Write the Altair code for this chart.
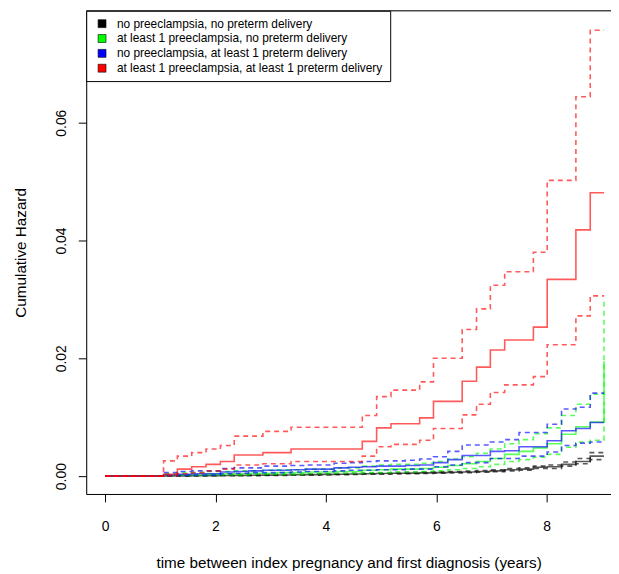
import altair as alt
import pandas as pd

# step times (years); first point is the origin
times = [0, 1.06, 1.31, 1.57, 1.83, 2.09, 2.34, 2.60, 2.86, 3.12, 3.37, 3.63, 3.89,
         4.15, 4.41, 4.66, 4.92, 5.18, 5.44, 5.70, 5.95, 6.21, 6.47, 6.73, 6.98,
         7.24, 7.50, 7.76, 8.01, 8.27, 8.53, 8.79, 9.04]

groups = [
    "no preeclampsia, no preterm delivery",
    "at least 1 preeclampsia, no preterm delivery",
    "no preeclampsia, at least 1 preterm delivery",
    "at least 1 preeclampsia, at least 1 preterm delivery",
]
colors = ["#000000", "#00FF00", "#0000FF", "#FF0000"]

# black: no preeclampsia, no preterm delivery
black_est = [0, .00003, .00005, .00007, .00009, .00011, .00013, .00015, .00018, .0002, .00023,
             .00026, .0003, .00033, .00037, .0004, .00044, .00048, .00052, .00056, .0006,
             .00065, .0007, .0008, .0009, .0011, .0012, .0015, .0016, .0020, .0025, .0034, .0034]
black_up = [0, .00006, .0001, .00013, .00015, .00018, .0002, .00022, .00026, .00028, .00032,
            .00035, .0004, .00043, .00047, .0005, .00055, .0006, .00064, .00069, .00073,
            .00079, .00085, .00096, .00107, .0013, .0014, .0017, .0019, .0024, .0030, .0040, .0040]
black_lo = [0, .00001, .00002, .00003, .00004, .00006, .00007, .00009, .00011, .00013, .00015,
            .00018, .00021, .00024, .00028, .00031, .00035, .00038, .00041, .00045, .00048,
            .00053, .00057, .00066, .00075, .0009, .0010, .0013, .0013, .0017, .0021, .0028, .0028]

# green: at least 1 preeclampsia, no preterm delivery
green_est = [0, .0001, .0002, .0002, .0003, .0004, .0004, .0005, .0005, .0006, .0006, .0007,
             .0007, .0008, .0008, .0010, .0011, .0012, .0012, .0013, .0015, .0018, .0021,
             .0025, .0030, .0037, .0042, .0048, .0055, .0071, .0084, .0092, .0195]
green_up = [0, .0004, .0006, .0006, .0008, .0008, .0009, .0009, .0010, .0011, .0011, .0012,
            .0012, .0014, .0014, .0017, .0019, .0020, .0020, .0022, .0025, .0029, .0033,
            .0039, .0046, .0055, .0062, .0072, .0082, .0103, .0122, .0139, .0302]
green_lo = [0, .00003, .0001, .0001, .0001, .0002, .0002, .0003, .0003, .0003, .0003, .0004,
            .0004, .0005, .0005, .0006, .0006, .0007, .0007, .0008, .0009, .0011, .0013,
            .0016, .0020, .0025, .0028, .0032, .0037, .0049, .0058, .0061, .0126]

# blue: no preeclampsia, at least 1 preterm delivery
blue_est = [0, .0002, .0003, .0004, .0004, .0007, .0008, .0009, .0010, .0010, .0011, .0012,
            .0012, .0014, .0015, .0016, .0017, .0017, .0018, .0019, .0023, .0028, .0035,
            .0035, .0042, .0043, .0050, .0050, .0060, .0077, .0081, .0091, .0091]
blue_up = [0, .0006, .0008, .0009, .0009, .0013, .0014, .0014, .0017, .0017, .0018, .0019,
           .0019, .0022, .0023, .0025, .0026, .0026, .0027, .0029, .0033, .0042, .0053,
           .0053, .0058, .0062, .0074, .0074, .0088, .0114, .0117, .0141, .0141]
blue_lo = [0, .00005, .0001, .00015, .00015, .0004, .0005, .0006, .0006, .0006, .0007, .0008,
           .0008, .0009, .0010, .0010, .0011, .0011, .0012, .0012, .0016, .0019, .0023,
           .0023, .0030, .0030, .0034, .0034, .0041, .0052, .0056, .0058, .0058]

# red: at least 1 preeclampsia, at least 1 preterm delivery
red_est = [0, .0003, .0012, .0016, .0020, .0025, .0036, .0036, .0040, .0040, .0046, .0046,
           .0046, .0046, .0046, .0059, .0082, .0089, .0089, .0099, .0127, .0127, .0161,
           .0185, .0214, .0231, .0231, .0253, .0334, .0334, .0418, .0481, .0481]
red_up = [0, .0026, .0034, .0040, .0046, .0052, .0068, .0068, .0076, .0076, .0083, .0083,
          .0083, .0083, .0083, .0103, .0135, .0146, .0146, .0160, .0200, .0200, .0249,
          .0284, .0324, .0347, .0347, .0380, .0502, .0502, .0644, .0757, .0757]
red_lo = [0, .00003, .0004, .0006, .0009, .0012, .0019, .0019, .0021, .0021, .0025, .0025,
          .0025, .0025, .0025, .0034, .0050, .0054, .0054, .0061, .0081, .0081, .0104,
          .0122, .0142, .0155, .0155, .0169, .0223, .0223, .0272, .0306, .0306]

series = [
    (groups[0], black_est, black_lo, black_up),
    (groups[1], green_est, green_lo, green_up),
    (groups[2], blue_est, blue_lo, blue_up),
    (groups[3], red_est, red_lo, red_up),
]

rows = []
for g, est, lo, up in series:
    for kind, vals in (("upper", up), ("lower", lo), ("estimate", est)):
        for t, v in zip(times, vals):
            rows.append({"group": g, "kind": kind, "series": g + " | " + kind, "t": t, "h": v})
df = pd.DataFrame(rows)

W, H = 530, 488
FONT = "Liberation Sans"

x = alt.X("t:Q",
          scale=alt.Scale(domain=[-0.341, 9.166], nice=False, zero=False),
          axis=alt.Axis(values=[0, 2, 4, 6, 8], format="d",
                        title="time between index pregnancy and first diagnosis (years)",
                        grid=False, domain=True, domainColor="black", domainWidth=1,
                        tickColor="black", tickSize=8, tickWidth=1,
                        labelFont=FONT, labelFontSize=14, labelColor="black", labelPadding=18,
                        titleFont=FONT, titleFontSize=15.4, titleFontWeight="normal",
                        titleColor="black", titlePadding=22))
y = alt.Y("h:Q",
          scale=alt.Scale(domain=[-0.003025, 0.07899], nice=False, zero=False),
          axis=alt.Axis(values=[0, 0.02, 0.04, 0.06], format=".2f",
                        title="Cumulative Hazard",
                        grid=False, domain=True, domainColor="black", domainWidth=1,
                        tickColor="black", tickSize=8, tickWidth=1,
                        labelFont=FONT, labelFontSize=14, labelColor="black",
                        labelAngle=270, labelAlign="center", labelBaseline="bottom",
                        labelPadding=10,
                        titleFont=FONT, titleFontSize=15.4, titleFontWeight="normal",
                        titleColor="black", titlePadding=26))

color = alt.Color("group:N", scale=alt.Scale(domain=groups, range=colors), legend=None)
dash = alt.StrokeDash("kind:N",
                      scale=alt.Scale(domain=["estimate", "lower", "upper"],
                                      range=[[1, 0], [5, 4], [5, 4]]),
                      legend=None)

layers = []
for g in groups:
    layers.append(
        alt.Chart(df[df["group"] == g])
        .mark_line(interpolate="step-after", strokeWidth=1.6, strokeOpacity=0.65)
        .encode(x=x, y=y, color=color, strokeDash=dash, detail="series:N")
    )

leg_df = pd.DataFrame({"legend_group": groups, "t": [0.0] * 4, "h": [0.0] * 4})
legend_layer = alt.Chart(leg_df).mark_square(opacity=0, size=60).encode(
    x=x, y=y,
    fill=alt.Fill("legend_group:N", sort=groups, scale=alt.Scale(range=colors),
                  legend=alt.Legend(title=None, orient="top-left", offset=0, padding=7,
                                    symbolType="square", symbolSize=64, symbolOpacity=1,
                                    symbolStrokeColor="black", symbolStrokeWidth=0.6,
                                    symbolOffset=3, labelOffset=9,
                                    labelFont=FONT, labelFontSize=12, labelColor="black",
                                    labelLimit=500, rowPadding=3,
                                    strokeColor="black", fillColor="white")),
)

frame_top = alt.Chart(pd.DataFrame({"a": [0]})).mark_rule(color="black", strokeWidth=1).encode(
    x=alt.value(0), x2=alt.value(W), y=alt.value(0)
)

chart = alt.layer(*layers, legend_layer, frame_top).properties(
    width=W, height=H,
    autosize=alt.AutoSizeParams(type="none"),
    padding={"left": 79, "top": 0, "right": 0, "bottom": 78},
).configure_view(stroke="transparent").configure(background="white")

chart.save("out.html", embed_options={"renderer": "svg", "actions": False})
